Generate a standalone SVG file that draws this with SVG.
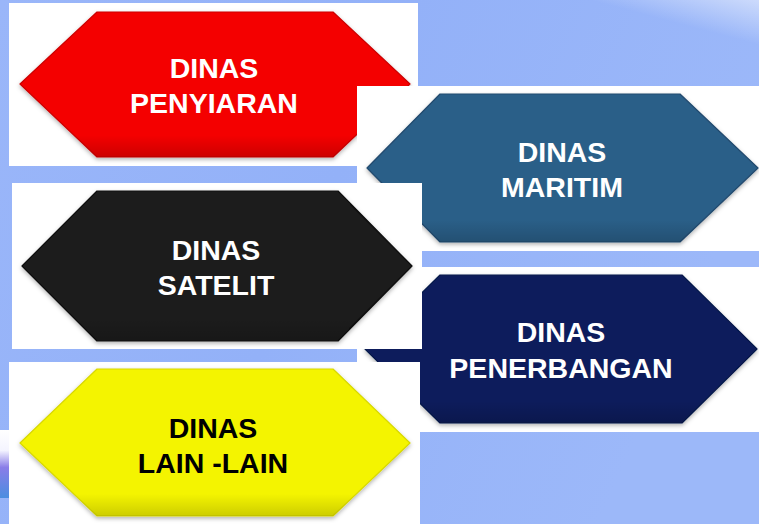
<svg xmlns="http://www.w3.org/2000/svg" width="759" height="524" viewBox="0 0 759 524">
  <defs>
    <linearGradient id="bg" x1="0" y1="0" x2="1" y2="0.3">
      <stop offset="0" stop-color="#9ab6f9"/>
      <stop offset="0.5" stop-color="#93b1f8"/>
      <stop offset="1" stop-color="#9cb8f9"/>
    </linearGradient>
    <linearGradient id="glowTR" x1="0" y1="1" x2="1" y2="0">
      <stop offset="0.75" stop-color="#ffffff" stop-opacity="0"/>
      <stop offset="1" stop-color="#ffffff" stop-opacity="0.5"/>
    </linearGradient>
    <linearGradient id="swoosh" x1="0" y1="0" x2="0" y2="1">
      <stop offset="0" stop-color="#ffffff"/>
      <stop offset="0.3" stop-color="#f4f4ff"/>
      <stop offset="0.55" stop-color="#8a7de8"/>
      <stop offset="1" stop-color="#4a8ee0"/>
    </linearGradient>
    <linearGradient id="shade" x1="0" y1="0" x2="0" y2="1">
      <stop offset="0.85" stop-color="#000000" stop-opacity="0"/>
      <stop offset="1" stop-color="#000000" stop-opacity="0.16"/>
    </linearGradient>
    <filter id="drop" x="-10%" y="-10%" width="120%" height="125%">
      <feDropShadow dx="0" dy="2" stdDeviation="2" flood-color="#000000" flood-opacity="0.3"/>
    </filter>
  </defs>
  <style>
    .tile { fill: #ffffff; }
    .hex { filter: url(#drop); stroke-width: 1.2; stroke-linejoin: round; }
    .gloss { fill: url(#shade); }
    .lbl { font-family: "Liberation Sans", Arial, sans-serif; font-weight: bold; font-size: 28.5px; text-anchor: middle; }
    .light { fill: #ffffff; }
    .dark { fill: #000000; }
  </style>

  <!-- slide background -->
  <rect x="0" y="0" width="759" height="524" fill="url(#bg)"/>
  <rect x="420" y="0" width="339" height="90" fill="url(#glowTR)"/>
  <rect x="0" y="430" width="10" height="68" fill="url(#swoosh)"/>

  <!-- red: DINAS PENYIARAN -->
  <g id="node-penyiaran">
    <rect class="tile" x="9" y="3" width="409" height="163"/>
    <polygon class="hex" fill="#f40000" stroke="#cc0000" points="20,84 97,12 333,12 410,84 333,157 97,157"/>
    <polygon class="gloss" points="20,84 97,12 333,12 410,84 333,157 97,157"/>
    <text class="lbl light" x="214" y="78">DINAS</text>
    <text class="lbl light" x="214" y="113">PENYIARAN</text>
  </g>

  <!-- steel blue: DINAS MARITIM -->
  <g id="node-maritim">
    <rect class="tile" x="357" y="86" width="402" height="165"/>
    <polygon class="hex" fill="#2c5e88" stroke="#214a6e" points="367,168 440,94 680,94 758,168 680,242 440,242"/>
    <polygon class="gloss" points="367,168 440,94 680,94 758,168 680,242 440,242"/>
    <text class="lbl light" x="562" y="162">DINAS</text>
    <text class="lbl light" x="562" y="197">MARITIM</text>
  </g>

  <!-- navy: DINAS PENERBANGAN -->
  <g id="node-penerbangan">
    <rect class="tile" x="357" y="267" width="402" height="165"/>
    <polygon class="hex" fill="#0a1f5c" stroke="#07164a" points="365,349 440,275 682,275 757,349 682,423 440,423"/>
    <polygon class="gloss" points="365,349 440,275 682,275 757,349 682,423 440,423"/>
    <text class="lbl light" x="561" y="342">DINAS</text>
    <text class="lbl light" x="561" y="378">PENERBANGAN</text>
  </g>

  <!-- black: DINAS SATELIT -->
  <g id="node-satelit">
    <rect class="tile" x="12" y="183" width="410" height="166"/>
    <polygon class="hex" fill="#1a1a1a" stroke="#0e0e0e" points="22,266 97,191 338,191 412,266 338,341 97,341"/>
    <polygon class="gloss" points="22,266 97,191 338,191 412,266 338,341 97,341"/>
    <text class="lbl light" x="216" y="260">DINAS</text>
    <text class="lbl light" x="216" y="295">SATELIT</text>
  </g>

  <!-- yellow: DINAS LAIN-LAIN -->
  <g id="node-lain">
    <rect class="tile" x="9" y="362" width="411" height="162"/>
    <polygon class="hex" fill="#f4f400" stroke="#d8d800" points="20,443 97,369 333,369 410,443 333,516 97,516"/>
    <polygon class="gloss" points="20,443 97,369 333,369 410,443 333,516 97,516"/>
    <text class="lbl dark" x="213" y="438">DINAS</text>
    <text class="lbl dark" x="213" y="473">LAIN -LAIN</text>
  </g>

  <!-- no connectors in this figure -->
  <g id="connectors"/>
</svg>
